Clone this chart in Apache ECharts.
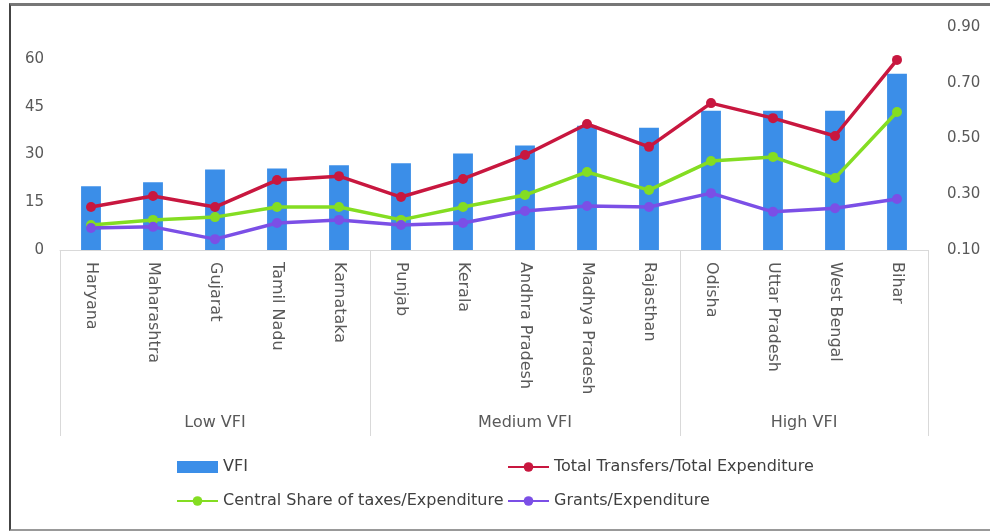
<html lang="en">
<head>
	<meta charset="UTF-8">
	<script src="https://cdn.jsdelivr.net/npm/echarts@6/dist/echarts.min.js"></script>
	<title>VFI and transfers</title>
</head>
<body style="margin:0">
<div id="pic" style="width:990px;height:531px"></div>
<div id="frame"></div>
</body>
<style>
	#frame
	{
		position:absolute;
		left:9px;
		top:3px;
		width:980px;
		height:523px;
		border-left:2px solid #444;
		border-top:3px solid #777;
		border-bottom:2px solid #999;
		border-right:0;
		pointer-events:none;
	}
</style>
<script>
	"use strict";

	const states=["Haryana","Maharashtra","Gujarat","Tamil Nadu","Karnataka","Punjab","Kerala",
		"Andhra Pradesh","Madhya Pradesh","Rajasthan","Odisha","Uttar Pradesh","West Bengal","Bihar"];
	const groupNames=["Low VFI","Medium VFI","High VFI"];
	const groupSizes=[5,5,4];
	const vfi=[20,21.3,25.3,25.6,26.6,27.2,30.3,32.8,39,38.4,43.7,43.7,43.7,55.3];
	const totalTransfers=[0.254,0.294,0.254,0.351,0.365,0.29,0.355,0.441,0.552,0.47,0.627,0.573,0.509,0.782];
	const centralShare=[0.19,0.208,0.218,0.254,0.254,0.208,0.254,0.297,0.38,0.315,0.419,0.434,0.358,0.595];
	const grants=[0.179,0.183,0.139,0.197,0.208,0.19,0.197,0.24,0.258,0.254,0.304,0.237,0.25,0.283];

	const grey="#595959",wide="DejaVu Sans";

	// group borders and centres on a 0..14 value scale
	let edges=[0],mids=[];
	for(let i=0; i<groupSizes.length; i++)
	{
		mids.push(edges[i]+groupSizes[i]/2);
		edges.push(edges[i]+groupSizes[i]);
	}

	function lineSeries(name,data,color)
	{
		return {
			name:name,type:"line",yAxisIndex:1,data:data,
			symbol:"circle",symbolSize:10,
			lineStyle:{width:3.5,color:color},
			itemStyle:{color:color}
		};
	}

	let legendText={fontSize:16,color:"#404040",fontFamily:wide};
	let pic=echarts.init(document.getElementById("pic"));
	let option=
		{
			animation:false,
			textStyle:{fontFamily:wide},
			grid:{left:60,right:62,top:27,bottom:281},
			legend:[
				{
					orient:"vertical",left:171,top:454,itemGap:18,itemWidth:41,itemHeight:12,
					data:[{name:"VFI",icon:"rect"},"Central Share of taxes/Expenditure"],
					textStyle:legendText
				},
				{
					orient:"vertical",left:502,top:454,itemGap:18,itemWidth:41,itemHeight:12,
					data:["Total Transfers/Total Expenditure","Grants/Expenditure"],
					textStyle:legendText
				}
			],
			xAxis:[
				{
					type:"category",data:states,
					axisLine:{show:false},
					axisTick:{show:false},
					axisLabel:{rotate:-90,fontSize:16,color:grey,margin:12,interval:0}
				},
				{
					type:"value",min:0,max:states.length,position:"bottom",
					axisLine:{show:true,lineStyle:{color:"#d9d9d9",width:1}},
					axisTick:{show:true,customValues:edges,length:186,lineStyle:{color:"#d9d9d9"}},
					axisLabel:{
						customValues:mids,margin:165,fontSize:16,color:grey,
						formatter:v=>
						{
							let k=mids.findIndex(m=>Math.abs(m-v)<1e-6);
							return k<0?"":groupNames[k];
						}
					},
					splitLine:{show:false}
				}
			],
			yAxis:[
				{
					type:"value",min:0,max:70,interval:15,
					axisLine:{show:false},axisTick:{show:false},splitLine:{show:false},
					axisLabel:{fontSize:15,color:grey,margin:16,formatter:v=>v>60?"":String(v)}
				},
				{
					type:"value",min:0.1,max:0.9,interval:0.2,
					axisLine:{show:false},axisTick:{show:false},splitLine:{show:false},
					axisLabel:{fontSize:15,color:grey,margin:19,formatter:v=>v.toFixed(2)}
				}
			],
			series:[
				{
					name:"VFI",type:"bar",data:vfi,barWidth:"32%",
					itemStyle:{color:"#3b8ee8"}
				},
				lineSeries("Total Transfers/Total Expenditure",totalTransfers,"#c8173f"),
				lineSeries("Central Share of taxes/Expenditure",centralShare,"#84dd22"),
				lineSeries("Grants/Expenditure",grants,"#7b4fe6")
			]
		};
	pic.setOption(option);
</script>
</html>
